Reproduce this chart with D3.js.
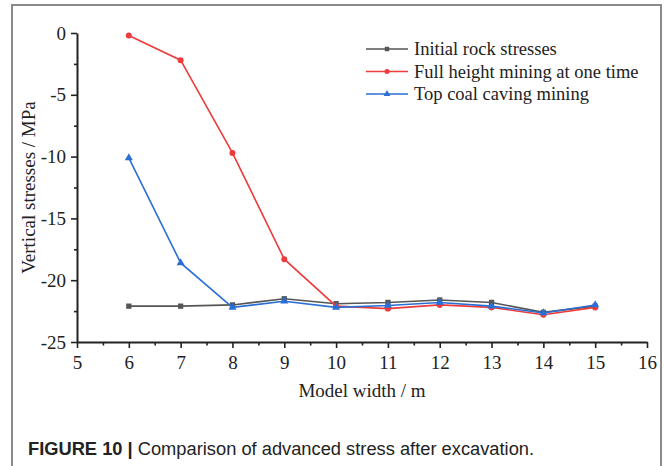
<!DOCTYPE html>
<html lang="en">
<head>
<meta charset="UTF-8">
<title>Comparison of advanced stress after excavation</title>
<script src="https://d3js.org/d3.v7.min.js"></script>
<style>
    body { margin: 0; background: #fff; }
    .tick text { font-family: "Liberation Serif", "Times New Roman", serif; font-size: 19px; fill: #222; }
    .axis-title { font-family: "Liberation Serif", "Times New Roman", serif; font-size: 19px; fill: #222; }
    .legend text { font-family: "Liberation Serif", "Times New Roman", serif; font-size: 18.5px; fill: #222; }
    .caption { font-family: "Liberation Sans", Arial, sans-serif; font-size: 18.3px; fill: #222; }
</style>
</head>
<body>
<div id="chart"></div>
<script>
// model width (m)
const widths = [6, 7, 8, 9, 10, 11, 12, 13, 14, 15];
// vertical stresses (MPa)
const initialRock = [-22.1, -22.1, -22.0, -21.5, -21.9, -21.8, -21.6, -21.8, -22.6, -22.1];
const fullHeight = [-0.2, -2.2, -9.7, -18.3, -22.1, -22.3, -22.0, -22.2, -22.8, -22.2];
const topCoal = [-10.1, -18.6, -22.2, -21.7, -22.2, -22.05, -21.8, -22.1, -22.65, -22.0];

const xTicks = [5, 6, 7, 8, 9, 10, 11, 12, 13, 14, 15, 16];
const yTicks = [0, -5, -10, -15, -20, -25];

const series = [
    { name: "Initial rock stresses", values: initialRock, color: "#555555", symbol: d3.symbolSquare },
    { name: "Full height mining at one time", values: fullHeight, color: "#ee3b3b", symbol: d3.symbolCircle },
    { name: "Top coal caving mining", values: topCoal, color: "#2a6fd6", symbol: d3.symbolTriangle }
];

const width = 664, height = 466;
const svg = d3.select("#chart").append("svg")
    .attr("width", width)
    .attr("height", height);

// figure frame
svg.append("path")
    .attr("d", "M12,470 V5 H661 V470")
    .attr("fill", "none")
    .attr("stroke", "#8a8a8a")
    .attr("stroke-width", 2);

const x = d3.scaleLinear().domain([5, 16]).range([77, 647]);
const y = d3.scaleLinear().domain([-25, 0]).range([342, 33]);

const fmt = d => String(d); // plain hyphen for negatives, like the original

// x axis
const xAxis = svg.append("g")
    .attr("transform", `translate(0,${y(-25)})`)
    .call(d3.axisBottom(x).tickValues(xTicks).tickFormat(fmt).tickSize(6).tickSizeOuter(0));
svg.append("g")
    .attr("transform", `translate(0,${y(-25)})`)
    .call(d3.axisBottom(x).tickValues(d3.range(5.5, 16, 1)).tickFormat("").tickSize(3.5).tickSizeOuter(0))
    .select(".domain").remove();

// y axis
const yAxis = svg.append("g")
    .attr("transform", `translate(${x(5)},0)`)
    .call(d3.axisLeft(y).tickValues(yTicks).tickFormat(fmt).tickSize(6).tickPadding(5).tickSizeOuter(0));
svg.append("g")
    .attr("transform", `translate(${x(5)},0)`)
    .call(d3.axisLeft(y).tickValues([-2.5, -7.5, -12.5, -17.5, -22.5]).tickFormat("").tickSize(3).tickSizeOuter(0))
    .select(".domain").remove();

svg.selectAll(".domain").attr("stroke", "#222").attr("stroke-width", 2);
svg.selectAll(".tick line").attr("stroke", "#222").attr("stroke-width", 1.6);
xAxis.selectAll(".tick text").attr("dy", "0.95em");

// axis titles
svg.append("text")
    .attr("class", "axis-title")
    .attr("text-anchor", "middle")
    .attr("transform", `translate(35,${(y(0) + y(-25)) / 2}) rotate(-90)`)
    .text("Vertical stresses / MPa");
svg.append("text")
    .attr("class", "axis-title")
    .attr("text-anchor", "middle")
    .attr("x", (x(5) + x(16)) / 2)
    .attr("y", 397)
    .text("Model width / m");

// lines and markers
const line = d3.line()
    .x((d, i) => x(widths[i]))
    .y(d => y(d));

series.forEach(s => {
    svg.append("path")
        .datum(s.values)
        .attr("fill", "none")
        .attr("stroke", s.color)
        .attr("stroke-width", 1.6)
        .attr("d", line);
    svg.append("g")
        .selectAll("path")
        .data(s.values)
        .join("path")
        .attr("transform", (d, i) => `translate(${x(widths[i])},${y(d)})`)
        .attr("d", d3.symbol().type(s.symbol).size(28))
        .attr("fill", s.color);
});

// legend
const legend = svg.append("g").attr("class", "legend");
series.forEach((s, i) => {
    const ly = 49 + i * 22.5;
    legend.append("line")
        .attr("x1", 366).attr("x2", 408)
        .attr("y1", ly).attr("y2", ly)
        .attr("stroke", s.color).attr("stroke-width", 1.6);
    legend.append("path")
        .attr("transform", `translate(387,${ly})`)
        .attr("d", d3.symbol().type(s.symbol).size(20))
        .attr("fill", s.color);
    legend.append("text")
        .attr("x", 414)
        .attr("y", ly + 6)
        .text(s.name);
});

// caption
const cap = svg.append("text")
    .attr("class", "caption")
    .attr("x", 28)
    .attr("y", 455);
cap.append("tspan").attr("font-weight", "bold").text("FIGURE 10 | ");
cap.append("tspan").text("Comparison of advanced stress after excavation.");
</script>
</body>
</html>
